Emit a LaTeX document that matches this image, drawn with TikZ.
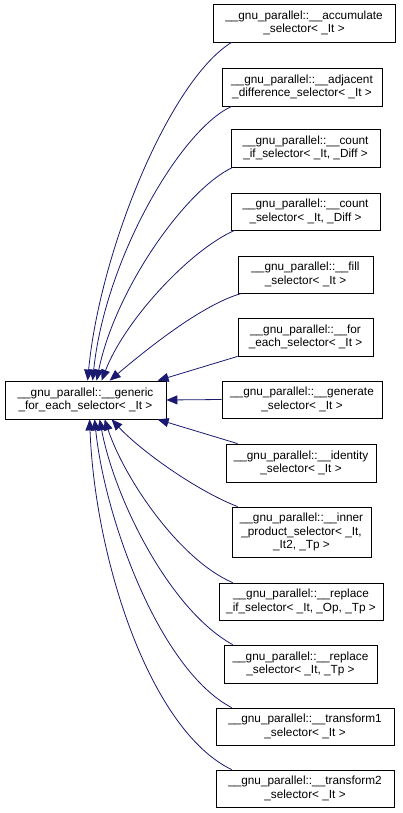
\documentclass[tikz,border=0pt]{standalone}
\usepackage{fontspec}
\setmainfont{Liberation Sans}
\usetikzlibrary{arrows.meta}
\definecolor{edgeblue}{HTML}{191970}
\begin{document}
\begin{tikzpicture}[x=1pt,y=-1pt,
  box/.style={draw=black,fill=white,line width=0.8pt,inner sep=0pt,align=center,
    font=\fontsize{11.8}{13.3}\selectfont,minimum height=38pt},
  edge/.style={draw=edgeblue,line width=0.8pt,-{Triangle[length=11pt,width=9pt]}}]
\useasboundingbox (0,0) rectangle (403,813);
\node[box,minimum width=161pt] (main) at (85.5,400) {\_\_gnu\_parallel::\_\_generic\\\_for\_each\_selector< \_It >};
\node[box,minimum width=182pt] (acc) at (304,23) {\_\_gnu\_parallel::\_\_accumulate\\\_selector< \_It >};
\node[box,minimum width=160pt] (adj) at (302,87) {\_\_gnu\_parallel::\_\_adjacent\\\_difference\_selector< \_It >};
\node[box,minimum width=149pt] (cif) at (305.5,148) {\_\_gnu\_parallel::\_\_count\\\_if\_selector< \_It, \_Diff >};
\node[box,minimum width=149pt,minimum height=37pt] (cnt) at (305.5,211.5) {\_\_gnu\_parallel::\_\_count\\\_selector< \_It, \_Diff >};
\node[box,minimum width=135pt,minimum height=37pt] (fill) at (305.5,274.5) {\_\_gnu\_parallel::\_\_fill\\\_selector< \_It >};
\node[box,minimum width=135pt] (fe) at (305.5,337) {\_\_gnu\_parallel::\_\_for\\\_each\_selector< \_It >};
\node[box,minimum width=160pt,minimum height=37pt] (gen) at (302,399.5) {\_\_gnu\_parallel::\_\_generate\\\_selector< \_It >};
\node[box,minimum width=150pt] (ident) at (301,463) {\_\_gnu\_parallel::\_\_identity\\\_selector< \_It >};
\node[box,minimum width=139pt,minimum height=50pt] (inner) at (301.5,532) {\_\_gnu\_parallel::\_\_inner\\\_product\_selector< \_It,\\\_It2, \_Tp >};
\node[box,minimum width=164pt,minimum height=37pt] (repif) at (301,601.5) {\_\_gnu\_parallel::\_\_replace\\\_if\_selector< \_It, \_Op, \_Tp >};
\node[box,minimum width=153pt] (rep) at (300.5,664) {\_\_gnu\_parallel::\_\_replace\\\_selector< \_It, \_Tp >};
\node[box,minimum width=178pt,minimum height=37pt] (tr1) at (305,726.5) {\_\_gnu\_parallel::\_\_transform1\\\_selector< \_It >};
\node[box,minimum width=178pt,minimum height=37pt] (tr2) at (305,788.5) {\_\_gnu\_parallel::\_\_transform2\\\_selector< \_It >};
% top edges
\draw[edge] ([xshift=19pt]acc.south west) .. controls (170,80) and (100,250) .. ([xshift=83pt]main.north west);
\draw[edge] ([xshift=10pt]adj.south west) .. controls (180,130) and (105,260) .. ([xshift=88pt]main.north west);
\draw[edge] ([xshift=2pt]cif.south west) .. controls (185,190) and (115,290) .. ([xshift=92pt]main.north west);
\draw[edge] ([xshift=4pt]cnt.south west) .. controls (190,250) and (125,320) .. ([xshift=97pt]main.north west);
\draw[edge] ([xshift=4pt]fill.south west) .. controls (200,305) and (140,355) .. ([xshift=105pt]main.north west);
\draw[edge] ([xshift=0pt]fe.south west) -- ([xshift=153pt]main.north west);
\draw[edge] (gen.west) -- (main.east);
% bottom edges
\draw[edge] ([xshift=12pt]ident.north west) -- ([xshift=153pt]main.south west);
\draw[edge] ([xshift=6pt]inner.north west) .. controls (195,490) and (140,450) .. ([xshift=107pt]main.south west);
\draw[edge] ([xshift=14pt]repif.north west) .. controls (180,560) and (125,480) .. ([xshift=100pt]main.south west);
\draw[edge] ([xshift=9pt]rep.north west) .. controls (170,610) and (115,500) .. ([xshift=95pt]main.south west);
\draw[edge] ([xshift=16pt]tr1.north west) .. controls (160,670) and (105,520) .. ([xshift=90pt]main.south west);
\draw[edge] ([xshift=16pt]tr2.north west) .. controls (150,730) and (95,560) .. ([xshift=85pt]main.south west);
\end{tikzpicture}
\end{document}
